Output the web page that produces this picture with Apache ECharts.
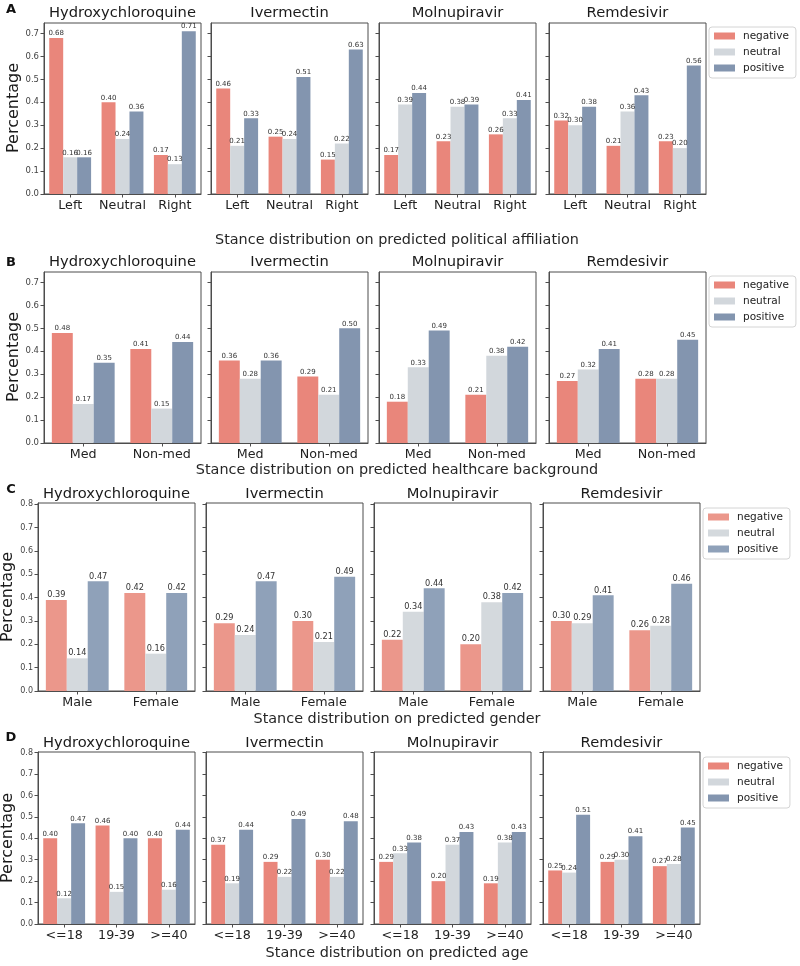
<!DOCTYPE html>
<html>
<head>
<meta charset="utf-8">
<script src="https://cdn.jsdelivr.net/npm/echarts@6/dist/echarts.min.js"></script>
<style>
html,body{margin:0;padding:0;background:#fff;}
#main{width:800px;height:966px;}
</style>
</head>
<body>
<div id="main"></div>
<script>
// ---- data ----
const drugs = ['Hydroxychloroquine', 'Ivermectin', 'Molnupiravir', 'Remdesivir'];
const stances = ['negative', 'neutral', 'positive'];

const catsPolitical = ['Left', 'Neutral', 'Right'];
const catsHealth = ['Med', 'Non-med'];
const catsGender = ['Male', 'Female'];
const catsAge = ['<=18', '19-39', '>=40'];

// values per drug (rows) and category (columns)
const polNegative = [[0.68, 0.40, 0.17], [0.46, 0.25, 0.15], [0.17, 0.23, 0.26], [0.32, 0.21, 0.23]];
const polNeutral  = [[0.16, 0.24, 0.13], [0.21, 0.24, 0.22], [0.39, 0.38, 0.33], [0.30, 0.36, 0.20]];
const polPositive = [[0.16, 0.36, 0.71], [0.33, 0.51, 0.63], [0.44, 0.39, 0.41], [0.38, 0.43, 0.56]];

const hcNegative = [[0.48, 0.41], [0.36, 0.29], [0.18, 0.21], [0.27, 0.28]];
const hcNeutral  = [[0.17, 0.15], [0.28, 0.21], [0.33, 0.38], [0.32, 0.28]];
const hcPositive = [[0.35, 0.44], [0.36, 0.50], [0.49, 0.42], [0.41, 0.45]];

const genNegative = [[0.39, 0.42], [0.29, 0.30], [0.22, 0.20], [0.30, 0.26]];
const genNeutral  = [[0.14, 0.16], [0.24, 0.21], [0.34, 0.38], [0.29, 0.28]];
const genPositive = [[0.47, 0.42], [0.47, 0.49], [0.44, 0.42], [0.41, 0.46]];

const ageNegative = [[0.40, 0.46, 0.40], [0.37, 0.29, 0.30], [0.29, 0.20, 0.19], [0.25, 0.29, 0.27]];
const ageNeutral  = [[0.12, 0.15, 0.16], [0.19, 0.22, 0.22], [0.33, 0.37, 0.38], [0.24, 0.30, 0.28]];
const agePositive = [[0.47, 0.40, 0.44], [0.44, 0.49, 0.48], [0.38, 0.43, 0.43], [0.51, 0.41, 0.45]];

const ticksAB = [0, 0.1, 0.2, 0.3, 0.4, 0.5, 0.6, 0.7];
const ticksCD = [0, 0.1, 0.2, 0.3, 0.4, 0.5, 0.6, 0.7, 0.8];

const captions = [
  'Stance distribution on predicted political affiliation',
  'Stance distribution on predicted healthcare background',
  'Stance distribution on predicted gender',
  'Stance distribution on predicted age'
];
const panelLetters = ['A', 'B', 'C', 'D'];

// ---- layout / style ----
const FONT = '"DejaVu Sans", "Liberation Sans", sans-serif';
const palAB = ['#E9867B', '#D2D7DC', '#8395AF'];
const palC = ['#EB978B', '#D4D9DD', '#8FA1B9'];

const rows = [
  { cats: catsPolitical, vals: [polNegative, polNeutral, polPositive], top: 23, height: 171, lefts: [44, 211, 379, 549], ymax: 0.7455, ticks: ticksAB,
    titleY: 13, capY: 240, letterY: 10, labelY: 108, legend: { left: 709, top: 27 }, pal: palAB, vfs: 7, tfs: 8.5 },
  { cats: catsHealth, vals: [hcNegative, hcNeutral, hcPositive], top: 272, height: 171, lefts: [44, 211, 379, 549], ymax: 0.7455, ticks: ticksAB,
    titleY: 262, capY: 470, letterY: 263, labelY: 357, legend: { left: 709, top: 276 }, pal: palAB, vfs: 7, tfs: 8.5 },
  { cats: catsGender, vals: [genNegative, genNeutral, genPositive], top: 503, height: 188, lefts: [38, 206, 374, 543], ymax: 0.806, ticks: ticksCD,
    titleY: 494, capY: 719, letterY: 490, labelY: 597, legend: { left: 703, top: 508 }, pal: palC, vfs: 8.2, tfs: 8 },
  { cats: catsAge, vals: [ageNegative, ageNeutral, agePositive], top: 752, height: 172, lefts: [38, 206, 374, 543], ymax: 0.803, ticks: ticksCD,
    titleY: 743, capY: 953, letterY: 738, labelY: 838, legend: { left: 703, top: 757 }, pal: palAB, vfs: 7, tfs: 8 }
];
const W = 157;

const grid = [], xAxis = [], yAxis = [], series = [], legend = [], graphic = [];
let idx = 0;
rows.forEach((r, ri) => {
  drugs.forEach((drug, di) => {
    grid.push({ left: r.lefts[di], top: r.top, width: W, height: r.height, show: true,
      borderColor: '#4d4d4d', borderWidth: 1, backgroundColor: 'transparent' });
    xAxis.push({ type: 'category', gridIndex: idx, data: r.cats,
      axisLine: { show: true, lineStyle: { color: '#4d4d4d', width: 1 } },
      axisTick: { show: true, alignWithLabel: true, interval: 0, length: 3.5, lineStyle: { color: '#4d4d4d' } },
      axisLabel: { show: true, interval: 0, hideOverlap: false, margin: 5, fontSize: 12.7, color: '#222', fontFamily: FONT },
      splitLine: { show: false } });
    yAxis.push({ type: 'value', gridIndex: idx, min: 0, max: r.ymax,
      axisLine: { show: true, lineStyle: { color: '#4d4d4d', width: 1 } },
      axisTick: { show: true, length: 3.5, lineStyle: { color: '#4d4d4d' }, customValues: r.ticks },
      axisLabel: { show: di === 0, margin: 5, fontSize: r.tfs, color: '#444', fontFamily: FONT,
        customValues: r.ticks, formatter: v => v.toFixed(1) },
      splitLine: { show: false } });
    stances.forEach((st, si) => {
      series.push({ type: 'bar', name: st, xAxisIndex: idx, yAxisIndex: idx,
        data: r.vals[si][di], barGap: '0%', barCategoryGap: '20%',
        itemStyle: { color: r.pal[si] },
        label: { show: true, position: 'top', distance: 1, fontSize: r.vfs, color: '#333', fontFamily: FONT,
          formatter: p => p.value.toFixed(2) } });
    });
    // subplot title
    graphic.push({ type: 'text', x: r.lefts[di] + W / 2, y: r.titleY,
      style: { text: drug, fill: '#1a1a1a', font: '14.7px ' + FONT, align: 'center', verticalAlign: 'middle',
        textAlign: 'center', textVerticalAlign: 'middle' } });
    idx++;
  });
  legend.push({ show: true, orient: 'vertical', left: r.legend.left, top: r.legend.top,
    data: stances.map((s, si) => ({ name: s, itemStyle: { color: r.pal[si] } })),
    selectedMode: false, icon: 'rect', itemWidth: 21, itemHeight: 7, itemGap: 4,
    padding: [3, 7, 4, 5], borderColor: '#d4d4d4', borderWidth: 1, borderRadius: 3, backgroundColor: '#fff',
    textStyle: { fontSize: 10.5, color: '#222', fontFamily: FONT, lineHeight: 12, padding: [0, 0, 0, 3] } });
  graphic.push({ type: 'text', x: 397, y: r.capY,
    style: { text: captions[ri], fill: '#262626', font: '14.4px ' + FONT, align: 'center', verticalAlign: 'middle',
      textAlign: 'center', textVerticalAlign: 'middle' } });
  graphic.push({ type: 'text', x: 11, y: r.letterY,
    style: { text: panelLetters[ri], fill: '#111', font: 'bold 13px ' + FONT, align: 'center', verticalAlign: 'middle',
      textAlign: 'center', textVerticalAlign: 'middle' } });
  graphic.push({ type: 'text', x: ri < 2 ? 14 : 8, y: r.labelY, rotation: Math.PI / 2,
    style: { text: 'Percentage', fill: '#1a1a1a', font: '16px ' + FONT, align: 'center', verticalAlign: 'middle',
      textAlign: 'center', textVerticalAlign: 'middle' } });
});

const chart = echarts.init(document.getElementById('main'), null, { renderer: 'canvas' });
chart.setOption({
  animation: false,
  backgroundColor: '#fff',
  textStyle: { fontFamily: FONT },
  grid, xAxis, yAxis, series, legend, graphic
});
</script>
</body>
</html>
